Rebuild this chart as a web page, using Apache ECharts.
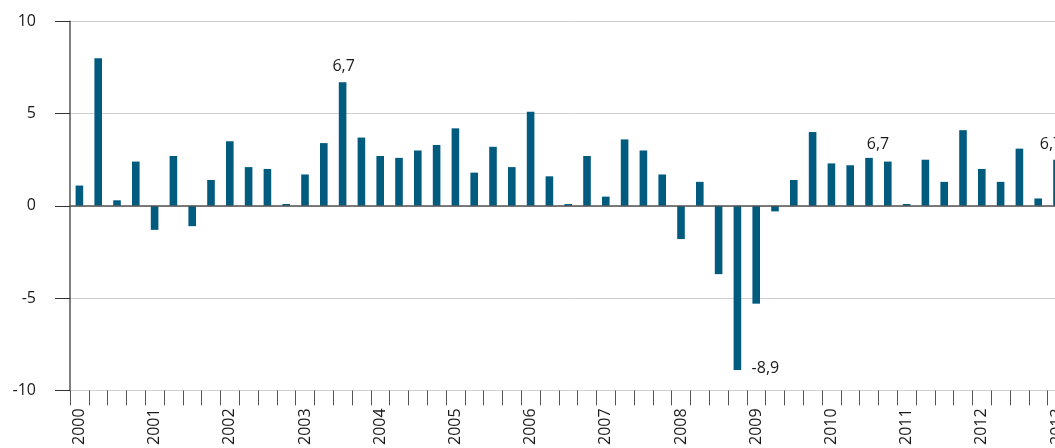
<!DOCTYPE html>
<html>
<head>
<meta charset="utf-8">
<title>bar chart</title>
<script src="https://cdn.jsdelivr.net/npm/echarts@6/dist/echarts.min.js"></script>
<style>
  html, body { margin: 0; padding: 0; overflow: hidden; background: #fff; }
  /* chart is a bit wider than the window, the last bar is cut like in the original */
  #chart { width: 1080px; height: 448px; }
</style>
</head>
<body>
<div id="chart"></div>
<script>
// quarters 2000K1 - 2013K1
var categories = [
  '2000K1', '2000K2', '2000K3', '2000K4',
  '2001K1', '2001K2', '2001K3', '2001K4',
  '2002K1', '2002K2', '2002K3', '2002K4',
  '2003K1', '2003K2', '2003K3', '2003K4',
  '2004K1', '2004K2', '2004K3', '2004K4',
  '2005K1', '2005K2', '2005K3', '2005K4',
  '2006K1', '2006K2', '2006K3', '2006K4',
  '2007K1', '2007K2', '2007K3', '2007K4',
  '2008K1', '2008K2', '2008K3', '2008K4',
  '2009K1', '2009K2', '2009K3', '2009K4',
  '2010K1', '2010K2', '2010K3', '2010K4',
  '2011K1', '2011K2', '2011K3', '2011K4',
  '2012K1', '2012K2', '2012K3', '2012K4',
  '2013K1'
];

var values = [
  1.1, 8.0, 0.3, 2.4,
  -1.3, 2.7, -1.1, 1.4,
  3.5, 2.1, 2.0, 0.1,
  1.7, 3.4, 6.7, 3.7,
  2.7, 2.6, 3.0, 3.3,
  4.2, 1.8, 3.2, 2.1,
  5.1, 1.6, 0.1, 2.7,
  0.5, 3.6, 3.0, 1.7,
  -1.8, 1.3, -3.7, -8.9,
  -5.3, -0.3, 1.4, 4.0,
  2.3, 2.2, 2.6, 2.4,
  0.1, 2.5, 1.3, 4.1,
  2.0, 1.3, 3.1, 0.4,
  2.5
];

// annotated bars: which quarter and what text
var noteCats = ['2003K3', '2008K4', '2010K3', '2013K1'];
var noteTexts = ['6,7', '-8,9', '6,7', '6,7'];

var yTicks = [-10, -5, 0, 5, 10];

var labelOffsets = {
  '2003K3': [1, -3],
  '2008K4': [28, -15],
  '2010K3': [9, 0],
  '2013K1': [-6, -2]
};

var seriesData = values.map(function (v, i) {
  var k = noteCats.indexOf(categories[i]);
  if (k < 0) return v;
  return {
    value: v,
    label: {
      show: true,
      position: v < 0 ? 'bottom' : 'top',
      offset: labelOffsets[categories[i]],
      formatter: noteTexts[k]
    }
  };
});

var myChart = echarts.init(document.getElementById('chart'));

var option = {
  animation: false,
  textStyle: { fontFamily: 'Open Sans' },
  grid: {
    left: 70,
    right: 13.6,
    top: 21.3,
    bottom: 57.4,
    containLabel: false
  },
  xAxis: {
    type: 'category',
    data: categories,
    position: 'bottom',
    axisLine: { show: false, onZero: false },
    axisTick: {
      show: true,
      interval: 0,
      length: 15,
      lineStyle: { color: '#555', width: 1 }
    },
    axisLabel: {
      interval: 3,
      rotate: 90,
      margin: 18,
      fontSize: 16,
      color: '#1a1a1a',
      formatter: function (val) { return val.slice(0, 4); }
    },
    splitLine: { show: false }
  },
  yAxis: {
    type: 'value',
    min: yTicks[0],
    max: yTicks[yTicks.length - 1],
    interval: 5,
    axisLine: { show: true, onZero: false, lineStyle: { color: '#555', width: 1.5 } },
    axisTick: { show: true, length: 15, lineStyle: { color: '#333', width: 1 } },
    axisLabel: { margin: 34, fontSize: 16, color: '#1a1a1a' },
    splitLine: { show: true, lineStyle: { color: '#cfcfcf', width: 1 } }
  },
  series: [
    {
      type: 'bar',
      data: seriesData,
      barWidth: 7.6,
      itemStyle: { color: '#005b7f' },
      label: { show: false, fontSize: 16, color: '#1a1a1a', distance: 5 },
      markLine: {
        silent: true,
        symbol: 'none',
        label: { show: false },
        lineStyle: { color: '#555', width: 1.5, type: 'solid' },
        data: [{ yAxis: 0 }]
      }
    }
  ]
};

myChart.setOption(option);
</script>
</body>
</html>
